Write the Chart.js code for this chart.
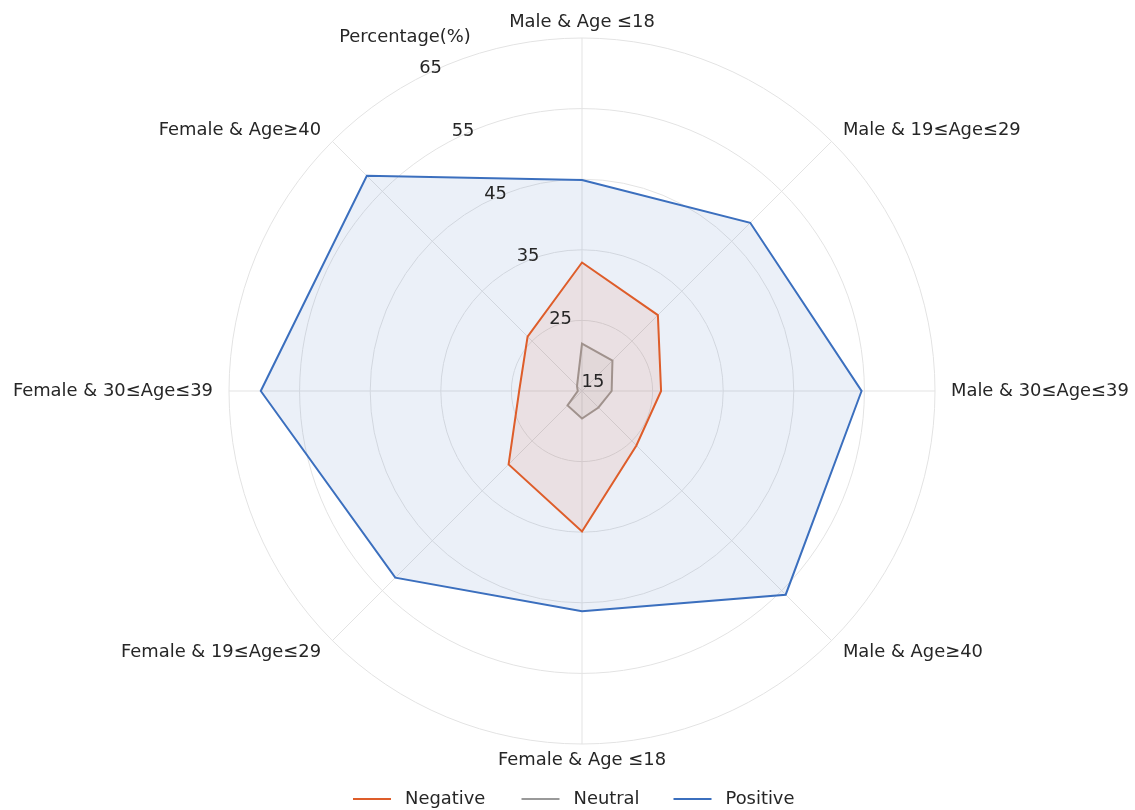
<!DOCTYPE html>
<html>
<head>
<meta charset="utf-8">
<script src="https://cdn.jsdelivr.net/npm/chart.js@4.4.1/dist/chart.umd.min.js"></script>
<style>
  html, body { margin: 0; padding: 0; background: #fff; }
</style>
</head>
<body>
<canvas id="myChart" width="1135" height="810"></canvas>
<script>
// data
var categories = ['Male & Age ≤18', 'Male & 19≤Age≤29', 'Male & 30≤Age≤39', 'Male & Age≥40',
                  'Female & Age ≤18', 'Female & 19≤Age≤29', 'Female & 30≤Age≤39', 'Female & Age≥40'];
var negative = [33.2, 30.2, 26.2, 25.9, 34.9, 29.7, 23.9, 25.9];
var neutral  = [21.7, 21.1, 19.2, 18.3, 18.9, 17.9, 15.6, 16.0];
var positive = [44.9, 48.7, 54.6, 55.8, 46.2, 52.4, 60.5, 58.1];
var seriesNames = ['Negative', 'Neutral', 'Positive'];
var tickValues = [15, 25, 35, 45, 55, 65];
var axisTitle = 'Percentage(%)';

var FONT = '17.9px "DejaVu Sans", sans-serif';
var TEXT = '#262626';
var colors = ['#de5d2a', '#999999', '#3b6fbe'];
var fills = ['rgba(222,93,42,0.10)', 'rgba(153,153,153,0.12)', 'rgba(59,111,190,0.10)'];
var legendX = [353, 521.5, 673.5];

var radarText = {
    id: 'radarText',
    afterDraw: function(chart) {
        var ctx = chart.ctx;
        var r = chart.scales.r;
        ctx.save();
        ctx.font = FONT;
        ctx.fillStyle = TEXT;
        ctx.textBaseline = 'middle';

        // radial tick labels sit on a slanted ray
        var a = 27.4 * Math.PI / 180;
        ctx.textAlign = 'center';
        tickValues.forEach(function(v) {
            var d = r.getDistanceFromCenterForValue(v);
            ctx.fillText(String(v), r.xCenter + 11 - d * Math.sin(a), r.yCenter - 9 - d * Math.cos(a));
        });
        ctx.fillText(axisTitle, r.xCenter - 177, r.yCenter - 354);

        // category labels
        categories.forEach(function(lbl, i) {
            var p = r.getPointPosition(i, r.drawingArea + 16);
            var dx = p.x - r.xCenter;
            if (Math.abs(dx) < 1) ctx.textAlign = 'center';
            else if (dx > 0) ctx.textAlign = 'left';
            else ctx.textAlign = 'right';
            ctx.fillText(lbl, p.x, p.y);
        });

        // legend
        var lineLen = 38, gap = 14, y = 799;
        ctx.textAlign = 'left';
        seriesNames.forEach(function(s, i) {
            var x = legendX[i];
            ctx.strokeStyle = colors[i];
            ctx.lineWidth = 2;
            ctx.beginPath();
            ctx.moveTo(x, y);
            ctx.lineTo(x + lineLen, y);
            ctx.stroke();
            ctx.fillText(s, x + lineLen + gap, y);
        });
        ctx.restore();
    }
};

var series = [negative, neutral, positive];
var datasets = series.map(function(vals, i) {
    return {
        label: seriesNames[i],
        data: vals,
        borderColor: colors[i],
        backgroundColor: fills[i],
        borderWidth: 2,
        fill: true,
        tension: 0,
        pointRadius: 0,
        pointHoverRadius: 0
    };
});

var myChart = new Chart(document.getElementById('myChart'), {
    type: 'radar',
    data: { labels: categories, datasets: datasets },
    options: {
        responsive: false,
        animation: false,
        layout: { padding: { left: 229, right: 200, top: 38, bottom: 66 } },
        plugins: { legend: { display: false }, tooltip: { enabled: false } },
        scales: {
            r: {
                min: 15,
                max: 65,
                ticks: { stepSize: 10, display: false },
                grid: { circular: true, color: '#e3e3e3', lineWidth: 1 },
                angleLines: { color: '#e3e3e3', lineWidth: 1 },
                pointLabels: { display: false }
            }
        }
    },
    plugins: [radarText]
});
</script>
</body>
</html>
